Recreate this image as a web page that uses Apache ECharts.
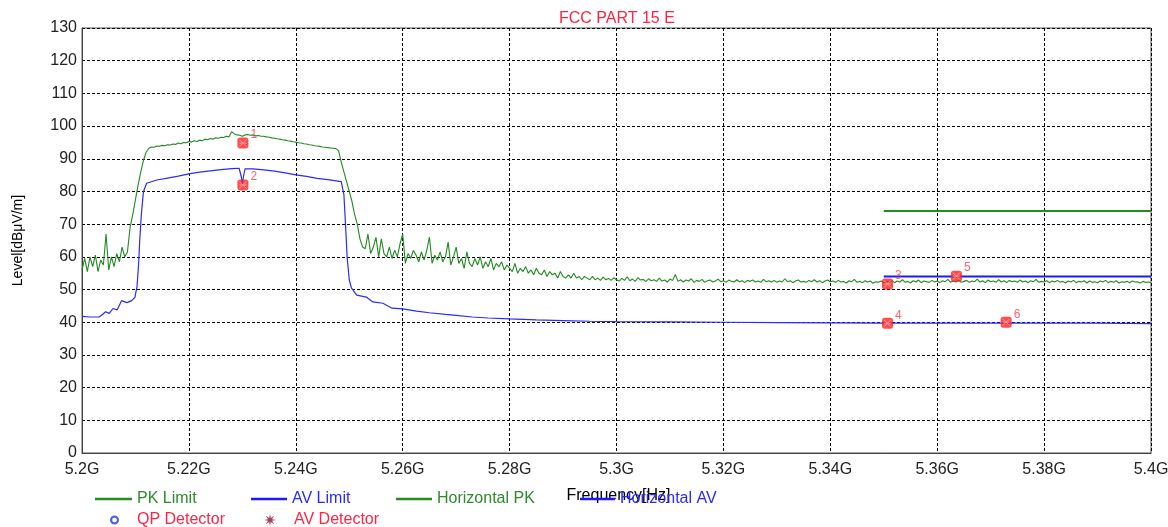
<!DOCTYPE html>
<html>
<head>
<meta charset="utf-8">
<script src="https://cdn.jsdelivr.net/npm/echarts@6/dist/echarts.min.js"></script>
<style>
html,body{margin:0;padding:0;background:#fff;}
#chart{width:1168px;height:527px;}
</style>
</head>
<body>
<div id="chart"></div>
<script>
// ---------- DATA ----------
const titleText = 'FCC PART 15 E';
const xTicksMHz = [5200, 5220, 5240, 5260, 5280, 5300, 5320, 5340, 5360, 5380, 5400];

// Horizontal PK trace: levels sampled every 0.5 MHz starting at 5200 MHz
const pkStartMHz = 5200;
const pkStepMHz = 0.5;
const pkLevel = [
  // 5200.0 - 5208.0
  56, 59.5, 55.5, 60, 57, 60.5, 55.5, 59, 57.5, 67, 56, 60, 57, 61, 58.5, 63, 60,
  // 5208.5 - 5212.5 (rise)
  61.5, 69, 73, 77.5, 82, 86, 89.5, 92, 93.2,
  // 5213.0 - 5247.5 (band)
  93.6, 93.5, 93.9, 93.8, 94.1, 94.0, 94.3, 94.2, 94.5, 94.4,
  94.8, 94.6, 95.0, 94.9, 95.3, 95.1, 95.5, 95.3, 95.7, 95.5,
  96.0, 95.8, 96.2, 96.0, 96.4, 96.3, 96.6, 96.5, 96.9, 96.7,
  98.3, 97.6, 97.3, 97.2, 96.9, 97.3, 97.4, 97.2, 97.3, 97.0,
  97.1, 96.9, 96.9, 96.7, 96.6, 96.4, 96.3, 96.1, 96.0, 95.8,
  95.7, 95.5, 95.4, 95.2, 95.1, 94.9, 94.8, 94.6, 94.5, 94.3,
  94.2, 94.0, 93.9, 93.8, 93.6, 93.5, 93.4, 93.3, 93.2, 93.1,
  // 5248.0 - 5253.0 (fall)
  92.5, 89, 86, 83, 80, 77, 73, 70, 65.5, 63, 62.5,
  // 5253.5 - 5300.0 (noisy skirt)
  67, 61, 63, 66, 60, 65.5, 61, 60, 63, 59.5,
  62, 60, 64, 67, 58, 61, 59.5, 62, 60.5, 58.5,
  61.5, 59, 62, 66, 58, 60.5, 59, 61.5, 58.5, 60,
  64.5, 57.5, 60, 63, 58, 59.5, 56.5, 61.5, 58, 57,
  59.5, 57.5, 60, 56.5, 58.5, 57, 59.5, 56, 58, 57,
  58.5, 56, 57.5, 56.5, 55.5, 58, 55, 56.5, 55.5, 57,
  55, 56, 54.5, 56.5, 55, 54.5, 56, 54, 55.5, 54.5,
  55, 53.5, 55.5, 54, 53.5, 54.5, 53.5, 55, 53.5, 54,
  53, 54, 53.5, 53, 54, 53, 53.5, 52.8, 53.8, 53,
  53.4, 52.8, 53.6, 53,
  // 5300.5 - 5400.0 (floor)
  52.6, 53.4, 52.8, 53.9, 52.7, 53.2, 52.5, 53.6, 52.9, 53.1,
  52.4, 53.3, 52.7, 53.0, 52.5, 53.5, 52.6, 52.9, 52.3, 53.2,
  52.8, 54.6, 52.5, 53.0, 52.3, 52.9, 52.6, 53.3, 52.2, 52.8,
  52.5, 53.1, 52.2, 52.7, 52.9, 52.3, 52.6, 53.2, 52.4, 52.7,
  52.2, 52.9, 52.5, 52.3, 53.0, 52.4, 52.7, 52.1, 52.8, 52.5,
  52.9, 52.3, 52.6, 52.2, 53.1, 52.4, 52.7, 52.3, 52.8, 52.2,
  52.6, 52.3, 53.3, 52.4, 52.7, 52.1, 52.6, 52.9, 52.3, 52.5,
  52.2, 52.8, 52.4, 53.0, 52.3, 52.7, 52.1, 52.6, 52.9, 52.4,
  52.6, 52.2, 52.8, 52.3, 52.5, 52.0, 52.7, 52.4, 53.1, 52.2,
  52.5, 52.1, 52.7, 52.3, 52.6, 51.9, 52.4, 52.2, 52.6, 52.0,
  52.5, 52.2, 52.8, 52.1, 52.6, 52.3, 53.0, 52.2, 52.5, 52.0,
  52.7, 52.3, 52.9, 52.1, 52.6, 52.4, 52.2, 52.8, 52.3, 52.6,
  52.1, 52.7, 52.4, 53.1, 52.2, 52.6, 52.3, 52.9, 52.2, 52.5,
  52.8, 52.2, 52.6, 52.4, 53.2, 52.3, 52.7, 52.1, 52.9, 52.4,
  52.6, 52.2, 53.0, 52.3, 52.7, 52.1, 52.8, 52.4, 52.6, 52.2,
  52.9, 52.3, 52.6, 52.1, 52.7, 52.4, 53.1, 52.2, 52.5, 52.3,
  52.7, 52.1, 52.6, 52.3, 52.8, 52.2, 52.5, 52.0, 52.6, 52.3,
  52.8, 52.1, 52.5, 52.3, 52.7, 52.0, 52.6, 52.2, 52.4, 52.1,
  52.6, 52.3, 52.8, 52.1, 52.5, 52.2, 52.7, 52.0, 52.4, 52.2,
  52.5, 52.1, 52.6, 52.3, 52.4, 52.0, 52.5, 52.2, 52.3, 52.1
];

// Horizontal AV trace
const avFreqMHz = [5200, 5201.5, 5203.2, 5204.0, 5204.4, 5205.1, 5205.8, 5206.6, 5207.4, 5208.4,
  5209.3, 5209.9, 5210.3, 5210.6, 5210.8, 5211.1, 5211.5, 5212.1, 5214, 5216,
  5218, 5220, 5222, 5224, 5226, 5228, 5229.4, 5229.8, 5230.0, 5230.2,
  5230.5, 5232, 5234, 5236, 5238, 5240, 5242, 5244, 5246, 5248.5,
  5249.0, 5249.3, 5249.6, 5250.0, 5250.4, 5251.4, 5253.2, 5254.4, 5256.3, 5258,
  5260, 5262.6, 5265, 5268, 5270, 5273, 5276, 5280, 5285, 5290,
  5295, 5300, 5310, 5320, 5330, 5340, 5350, 5360, 5370, 5380, 5390, 5400];
const avLevel = [41.8, 41.6, 41.6, 42.6, 43.2, 42.7, 44.2, 43.8, 46.6, 46.0,
  46.6, 47.6, 51, 58, 65, 73, 80, 82.5, 83.5, 84.1,
  84.7, 85.4, 85.9, 86.3, 86.7, 87.0, 87.1, 84.5, 82.2, 84.5,
  86.9, 86.9, 86.6, 86.2, 85.7, 85.1, 84.6, 84.0, 83.6, 83.0,
  79, 70, 60, 53, 50.5, 48.3, 47.7, 46.2, 45.8, 44.3,
  44.1, 43.4, 42.9, 42.4, 42.1, 41.6, 41.3, 41.0, 40.7, 40.5,
  40.3, 40.2, 40.1, 40.0, 39.9, 39.8, 39.7, 39.7, 39.7, 39.7, 39.7, 39.6];

// Limits
const pkLimitFreqMHz = [5350, 5400];
const pkLimitLevel = [74, 74];
const avLimitFreqMHz = [5350, 5400];
const avLimitLevel = [54, 54];

// Markers
const markerNames = ['1', '2', '3', '4', '5', '6'];
const markerFreqMHz = [5230.1, 5230.1, 5350.7, 5350.7, 5363.6, 5372.9];
const markerLevel = [94.8, 82.0, 51.7, 39.7, 54.1, 40.0];

// ---------- CHART ----------
const GREEN = '#238a23';
const BLUE = '#2b2bff';
const RED = '#ff2444';
const FONT = '"Liberation Sans", Arial, sans-serif';

const zip = (xs, ys) => xs.map((x, i) => [x, ys[i]]);
const pkData = pkLevel.map((v, i) => [pkStartMHz + i * pkStepMHz, v]);
const avData = zip(avFreqMHz, avLevel);
const markerData = markerFreqMHz.map((f, i) => [f, markerLevel[i], markerNames[i]]);

const starPath = 'path://M10,5 L6.66,5.69 L8.54,8.54 L5.69,6.66 L5,10 L4.31,6.66 L1.46,8.54 L3.34,5.69 L0,5 L3.34,4.31 L1.46,1.46 L4.31,3.34 L5,0 L5.69,3.34 L8.54,1.46 L6.66,4.31 Z';
const lineIcon = 'path://M0,0 L34,0 L34,2.5 L0,2.5 Z';
const ringIcon = 'path://M5,0 A5,5 0 1 1 4.99,0 Z M5,2.4 A2.6,2.6 0 1 0 5.01,2.4 Z';

function legendItem(name, color, left, top, icon, iconColor, iw, ih) {
  return {
    data: [{ name: name, icon: icon, itemStyle: { color: iconColor }, textStyle: { color: color } }],
    left: left, top: top,
    padding: 0,
    itemWidth: iw, itemHeight: ih,
    itemGap: 0,
    selectedMode: false,
    textStyle: { fontSize: 16, fontFamily: FONT }
  };
}

const chart = echarts.init(document.getElementById('chart'), null, { renderer: 'canvas' });
chart.setOption({
  animation: false,
  backgroundColor: '#ffffff',
  title: {
    text: titleText,
    left: 554, top: 6,
    textStyle: { color: RED, fontSize: 16, fontWeight: 'normal', fontFamily: FONT }
  },
  legend: [
    legendItem('PK Limit', '#2f8a2f', 95, 491, lineIcon, '#1f8f1f', 37, 3),
    legendItem('AV Limit', BLUE, 251, 491, lineIcon, '#1a1aff', 36, 3),
    legendItem('Horizontal PK', '#2f8a2f', 396, 491, lineIcon, '#1f8f1f', 36, 3),
    legendItem('Horizontal AV', BLUE, 580, 491, lineIcon, '#1a1aff', 35, 3),
    legendItem('QP Detector', RED, 110, 512, ringIcon, '#1f3fcf', 35, 9),
    legendItem('AV Detector', RED, 264, 512, starPath, '#8a1236', 38, 12)
  ],
  grid: {
    left: 82, right: 17, top: 28, bottom: 74,
    outerBoundsMode: 'none',
    show: true, borderColor: '#555', borderWidth: 1
  },
  xAxis: {
    type: 'value',
    min: 5200, max: 5400, interval: 20,
    name: 'Frequency[Hz]',
    nameLocation: 'middle',
    nameGap: 35,
    nameTextStyle: { color: '#000', fontSize: 16, fontFamily: FONT, padding: [0, 0, 0, 4] },
    axisLine: { show: true, lineStyle: { color: '#444', width: 1 } },
    axisTick: { show: false },
    axisLabel: {
      color: '#222', fontSize: 16, fontFamily: FONT, margin: 9,
      formatter: v => (v / 1000) + 'G'
    },
    splitLine: { show: true, lineStyle: { color: '#000', type: [3, 2], width: 1 } }
  },
  yAxis: {
    type: 'value',
    min: 0, max: 130, interval: 10,
    name: 'Level[dBμV/m]',
    nameLocation: 'middle',
    nameRotate: 90,
    nameGap: 57,
    nameTextStyle: { color: '#000', fontSize: 14, fontFamily: FONT },
    axisLine: { show: true, lineStyle: { color: '#444', width: 1 } },
    axisTick: { show: false },
    axisLabel: { color: '#222', fontSize: 16, fontFamily: FONT, margin: 5 },
    splitLine: { show: true, lineStyle: { color: '#000', type: [3, 2], width: 1 } }
  },
  series: [
    {
      name: 'PK Limit', type: 'line', data: zip(pkLimitFreqMHz, pkLimitLevel),
      symbol: 'none', lineStyle: { color: '#1f8f1f', width: 2 }, itemStyle: { color: '#1f8f1f' },
      silent: true, z: 3
    },
    {
      name: 'AV Limit', type: 'line', data: zip(avLimitFreqMHz, avLimitLevel),
      symbol: 'none', lineStyle: { color: '#1a1aff', width: 2 }, itemStyle: { color: '#1a1aff' },
      silent: true, z: 3
    },
    {
      name: 'Horizontal PK', type: 'line', data: pkData,
      symbol: 'none', lineStyle: { color: GREEN, width: 1.1 }, itemStyle: { color: '#1f8f1f' },
      silent: true, z: 4
    },
    {
      name: 'Horizontal AV', type: 'line', data: avData,
      symbol: 'none', lineStyle: { color: BLUE, width: 1.2 }, itemStyle: { color: '#1a1aff' },
      silent: true, z: 4
    },
    {
      name: 'QP Detector', type: 'scatter', data: [],
      symbol: 'circle', symbolSize: 8,
      itemStyle: { color: '#1f3fcf' }
    },
    {
      name: 'AV Detector', type: 'scatter', data: [],
      symbol: starPath, symbolSize: 12,
      itemStyle: { color: '#8a1236' }
    },
    {
      name: 'Markers', type: 'scatter', data: markerData,
      symbol: 'roundRect', symbolSize: 11,
      itemStyle: { color: '#ff2020' },
      label: {
        show: true, position: 'right', distance: 2, offset: [0, -8],
        formatter: p => p.data[2],
        color: '#ff3a50', fontSize: 12, fontFamily: FONT
      },
      silent: true, z: 6
    },
    {
      name: 'MarkersX', type: 'scatter', data: markerData,
      symbol: 'path://M0,0 L10,10 M10,0 L0,10 M0,5 L10,5',
      symbolSize: 7,
      itemStyle: { color: 'none', borderColor: '#ffb0b0', borderWidth: 1 },
      silent: true, z: 7
    }
  ]
});
</script>
</body>
</html>
